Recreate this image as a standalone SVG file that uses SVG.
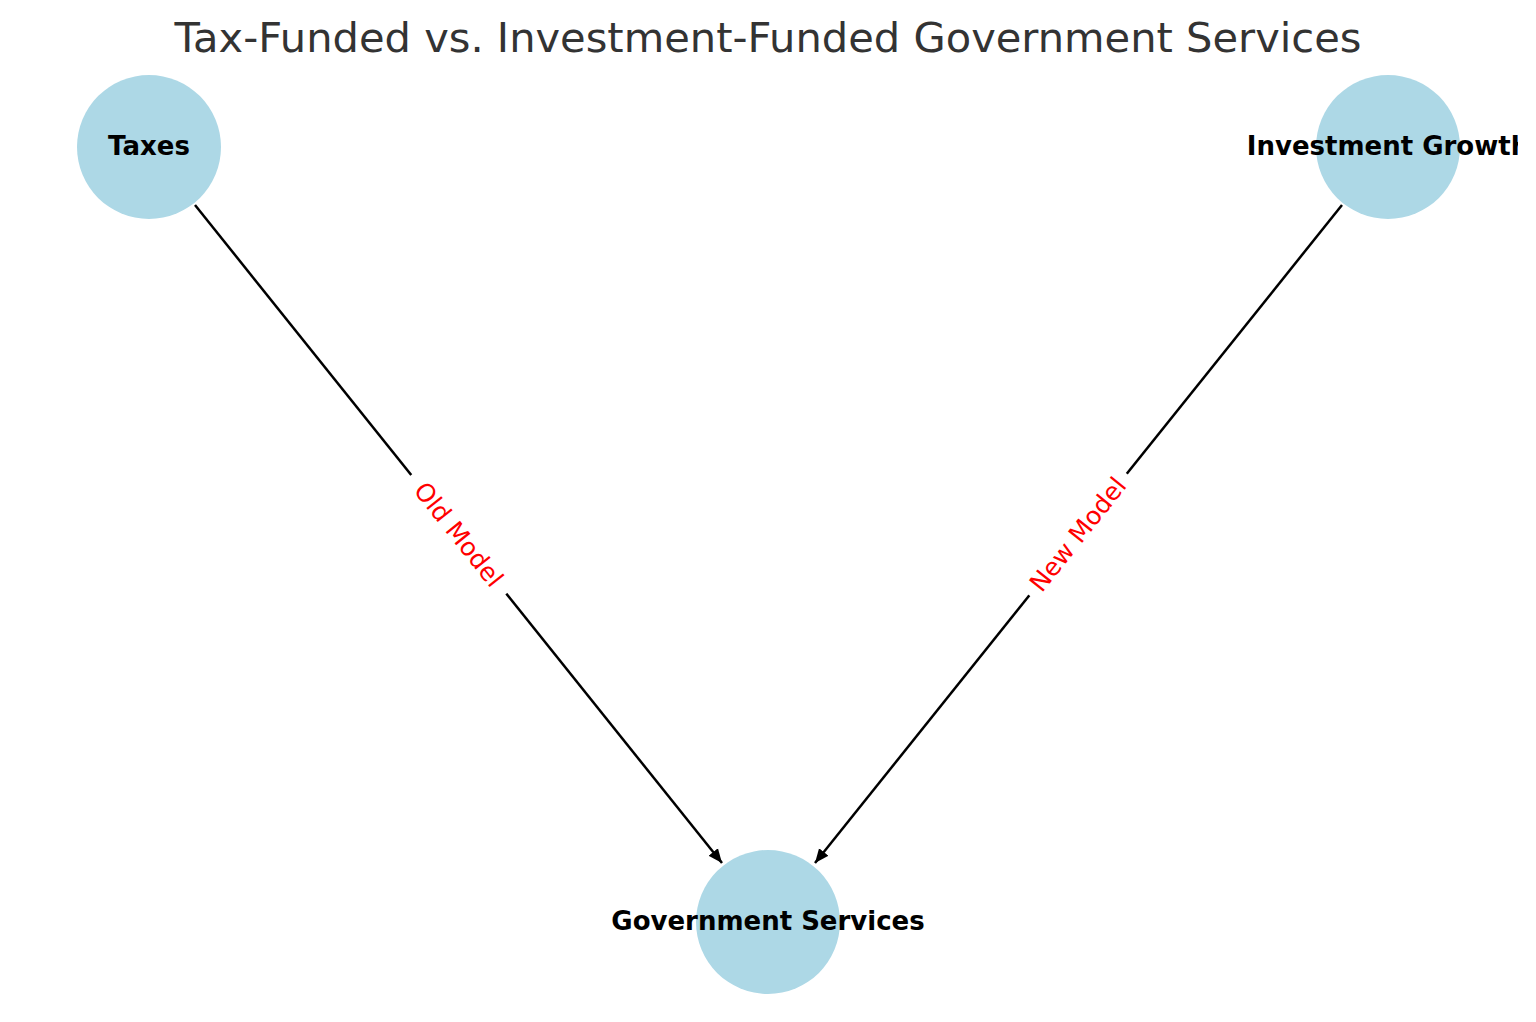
<svg xmlns="http://www.w3.org/2000/svg" width="1536" height="1022" viewBox="0 0 1536 1022">
<style>
.node{fill:#add8e6}
.nl{font-family:"DejaVu Sans",sans-serif;font-weight:bold;font-size:26px;fill:#000;text-anchor:middle;dominant-baseline:central}
.el{font-family:"DejaVu Sans",sans-serif;font-size:25px;fill:#ff0000;text-anchor:middle;dominant-baseline:central}
.edge{stroke:#000;stroke-width:2.5;fill:none}
</style>
<defs>
<marker id="arr" markerWidth="16" markerHeight="14" refX="14" refY="7" orient="auto" markerUnits="userSpaceOnUse">
<path d="M0,1 L14,7 L0,13 Z" fill="#000"/>
</marker>
<clipPath id="clip"><rect x="0" y="0" width="1518" height="1022"/></clipPath>
</defs>
<rect width="1536" height="1022" fill="#fff"/>
<text x="768" y="37" font-family="DejaVu Sans, sans-serif" font-size="41.6" fill="#333" text-anchor="middle" dominant-baseline="central">Tax-Funded vs. Investment-Funded Government Services</text>
<g id="connectors">
<line class="edge" x1="195" y1="205" x2="722" y2="863" marker-end="url(#arr)"/>
<line class="edge" x1="1342" y1="205" x2="815" y2="863" marker-end="url(#arr)"/>
<g transform="translate(458.5,534.5) rotate(51.4)">
<rect x="-76" y="-15" width="152" height="30" fill="#fff"/>
<text class="el" x="0" y="0">Old Model</text>
</g>
<g transform="translate(1078,534.5) rotate(-51.4)">
<rect x="-78" y="-15" width="156" height="30" fill="#fff"/>
<text class="el" x="0" y="0">New Model</text>
</g>
</g>
<g id="taxes">
<circle class="node" cx="149" cy="147" r="72"/>
<text class="nl" x="149" y="146">Taxes</text>
</g>
<g id="investment-growth" clip-path="url(#clip)">
<circle class="node" cx="1388" cy="147" r="72"/>
<text class="nl" x="1388" y="146">Investment Growth</text>
</g>
<g id="government-services">
<circle class="node" cx="768" cy="922" r="72"/>
<text class="nl" x="768" y="921">Government Services</text>
</g>
</svg>
